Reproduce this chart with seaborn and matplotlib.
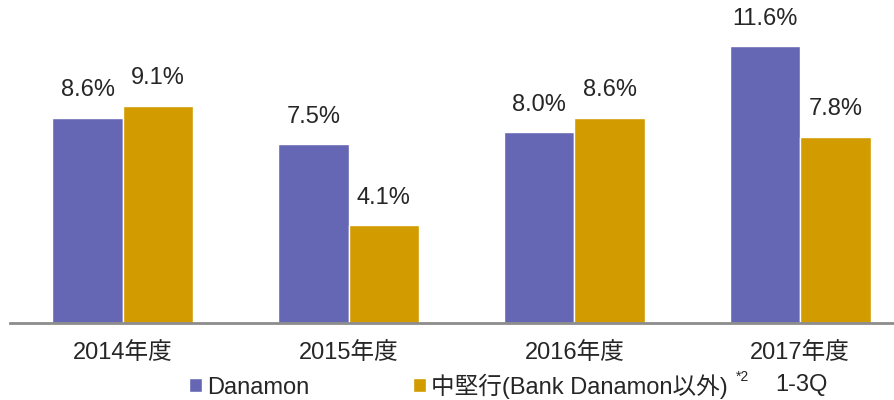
import pandas as pd
import matplotlib
matplotlib.use("Agg")
import matplotlib.pyplot as plt
import seaborn as sns

#--------------------DATA-----------------------

years = ['2014年度', '2015年度', '2016年度', '2017年度']
danamon = [8.6, 7.5, 8.0, 11.6]
midtier = [9.1, 4.1, 8.6, 7.8]
series_names = ['Danamon', '中堅行(Bank Danamon以外)']

df = pd.DataFrame({
    'year': years * 2,
    'value': danamon + midtier,
    'series': [series_names[0]] * 4 + [series_names[1]] * 4,
})

#--------------------PLOT-----------------------

sns.set_style('white')
plt.rcParams['font.family'] = ['Liberation Sans', 'Noto Sans CJK JP', 'DejaVu Sans']

fig = plt.figure(figsize=(8.95, 4.0), dpi=100)
ax = fig.add_axes([10 / 895, 77 / 400, 885 / 895, 323 / 400])

sns.barplot(data=df, x='year', y='value', hue='series',
            palette=['#6667b4', '#d29b00'], width=0.625,
            saturation=1, ax=ax, legend=True)

# Value labels above bars
for cont in ax.containers:
    ax.bar_label(cont, fmt='%.1f%%', padding=12, fontsize=17)

ax.set_xlim(-0.5, 3.42)
ax.set_ylim(0, 13.55)
ax.set_xlabel('')
ax.set_ylabel('')
ax.set_yticks([])
ax.tick_params(axis='x', length=0, labelsize=17, pad=14)

for side in ['top', 'right', 'left']:
    ax.spines[side].set_visible(False)
ax.spines['bottom'].set_color('#8c8c8c')
ax.spines['bottom'].set_linewidth(2)

# Legend below the axis labels
handles, labels = ax.get_legend_handles_labels()
ax.legend_.remove()
fig.legend(handles, labels, loc='center left',
           bbox_to_anchor=(189 / 895, 1 - 386 / 400), ncol=2,
           frameon=False, fontsize=17, handlelength=0.55, handleheight=0.55,
           handletextpad=0.2, columnspacing=4.4, borderpad=0,
           borderaxespad=0)

fig.text(736 / 895, 1 - 377 / 400, '*2', fontsize=10, va='center', ha='left')
fig.text(775 / 895, 1 - 385 / 400, '1-3Q', fontsize=17, va='center', ha='left')

plt.savefig('out.png', dpi=100)
